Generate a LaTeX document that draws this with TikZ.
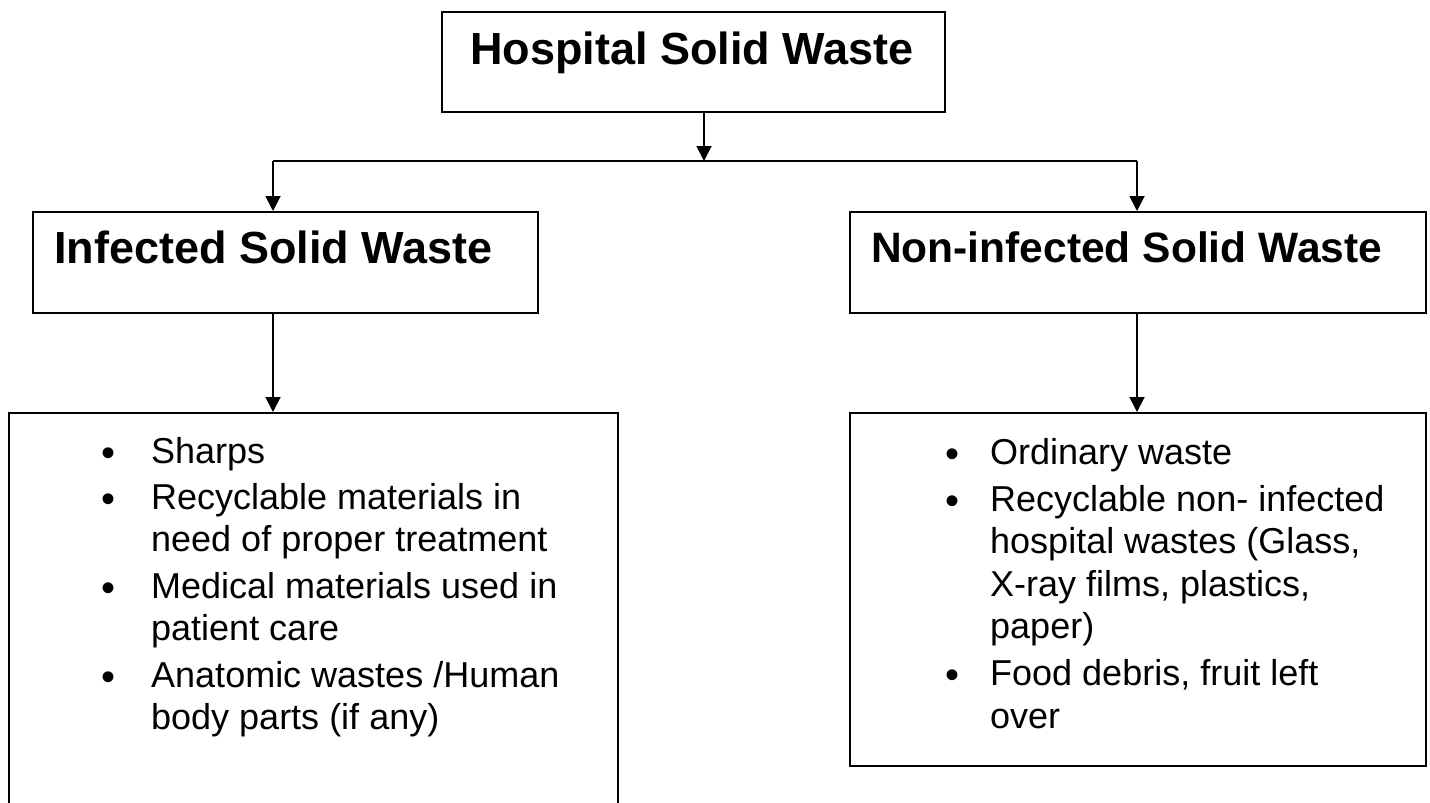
\documentclass[tikz,border=0pt]{standalone}
\usepackage{fontspec}
\setmainfont{Liberation Sans}
\usetikzlibrary{arrows.meta}
\tikzset{
  box/.style={draw, line width=1.9pt, rectangle, inner sep=0pt, anchor=north west},
  arr/.style={line width=1.9pt, -{Triangle[length=15pt,width=15pt]}},
  ln/.style={line width=1.9pt},
  head/.style={font=\fontsize{45}{50}\selectfont\bfseries, anchor=base west, inner sep=0pt},
  headsm/.style={font=\fontsize{42.5}{48}\selectfont\bfseries, anchor=base west, inner sep=0pt},
  body/.style={font=\fontsize{36}{43}\selectfont, anchor=base west, inner sep=0pt},
  bul/.style={font=\fontsize{40}{43}\selectfont, anchor=base, inner sep=0pt, yshift=-3.5pt},
}
\begin{document}
\begin{tikzpicture}[x=1pt,y=-1pt]
\useasboundingbox (0,0) rectangle (1430,803);
% boxes
\node[box, minimum width=503pt, minimum height=100pt] (hsw) at (441,11) {};
\node[box, minimum width=505pt, minimum height=101pt] (inf) at (32,211) {};
\node[box, minimum width=576pt, minimum height=101pt] (non) at (849,211) {};
\node[box, minimum width=609pt, minimum height=420pt] (infl) at (8,412) {};
\node[box, minimum width=576pt, minimum height=353pt] (nonl) at (849,412) {};
% headings
\node[head] (t1) at (470,64) {Hospital Solid Waste};
\node[head] (t2) at (54,263) {Infected Solid Waste};
\node[headsm] (t3) at (871,262) {Non-infected Solid Waste};
% connectors
\coordinate (jm) at (704,161);
\coordinate (jl) at (273,161);
\coordinate (jr) at (1137,161);
\draw[arr] (hsw.south -| jm) -- (jm);
\draw[ln] (jl) -- (jr);
\draw[arr] (jl) -- (inf.north -| jl);
\draw[arr] (jr) -- (non.north -| jr);
\draw[arr] (inf.south -| jl) -- (infl.north -| jl);
\draw[arr] (non.south -| jr) -- (nonl.north -| jr);
% left list
\node[bul] (lb1) at (109,463) {\textbullet};
\node[body] (l1) at (151,463) {Sharps};
\node[bul] (lb2) at (109,509) {\textbullet};
\node[body] (l2) at (151,509) {Recyclable materials in};
\node[body] (l3) at (151,551) {need of proper treatment};
\node[bul] (lb3) at (109,598) {\textbullet};
\node[body] (l4) at (151,598) {Medical materials used in};
\node[body] (l5) at (151,640) {patient care};
\node[bul] (lb4) at (109,687) {\textbullet};
\node[body] (l6) at (151,687) {Anatomic wastes /Human};
\node[body] (l7) at (151,729) {body parts (if any)};
% right list
\node[bul] (rb1) at (952,464) {\textbullet};
\node[body] (r1) at (990,464) {Ordinary waste};
\node[bul] (rb2) at (952,511) {\textbullet};
\node[body] (r2) at (990,511) {Recyclable non- infected};
\node[body] (r3) at (990,553) {hospital wastes (Glass,};
\node[body] (r4) at (990,596) {X-ray films, plastics,};
\node[body] (r5) at (990,638) {paper)};
\node[bul] (rb3) at (952,685) {\textbullet};
\node[body] (r6) at (990,685) {Food debris, fruit left};
\node[body] (r7) at (990,728) {over};
\end{tikzpicture}
\end{document}
